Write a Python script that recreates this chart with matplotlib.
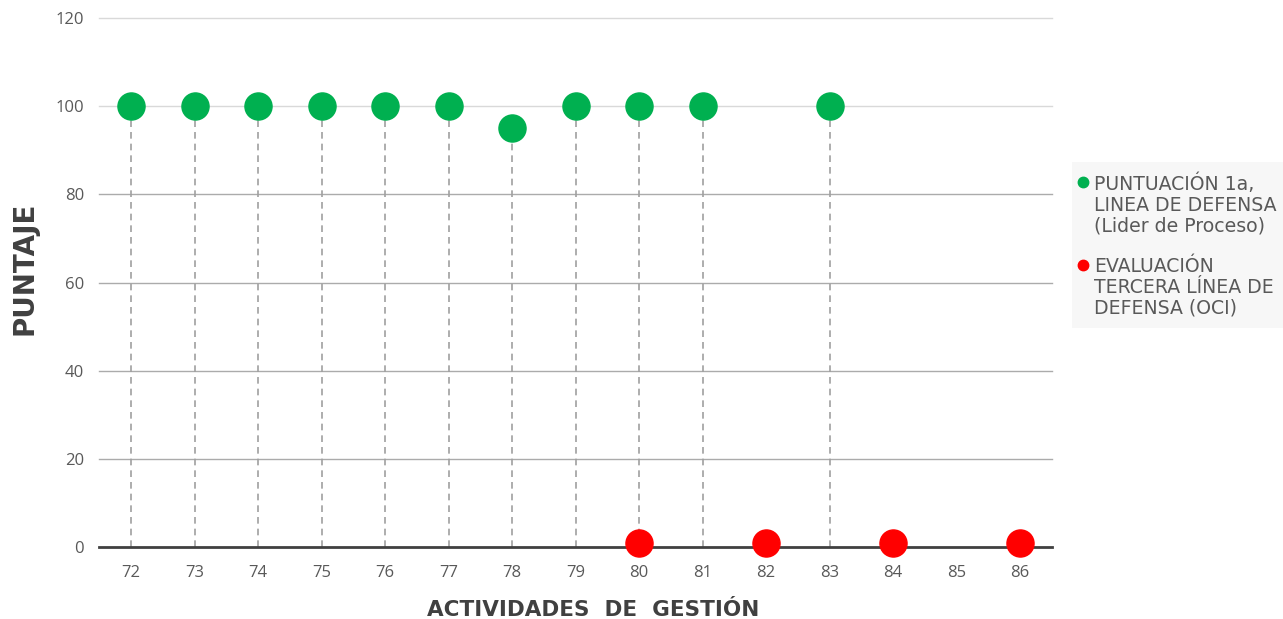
import numpy as np
import matplotlib.pyplot as plt
from matplotlib.patches import Rectangle
from matplotlib.lines import Line2D

# categories on the x axis
actividades = [72, 73, 74, 75, 76, 77, 78, 79, 80, 81, 82, 83, 84, 85, 86]
# 1a linea de defensa (None = no value)
puntuacion_1a = [100, 100, 100, 100, 100, 100, 95, 100, 100, 100, None, 100, None, None, None]
# tercera linea de defensa (OCI)
evaluacion_oci = [None, None, None, None, None, None, None, None, 1, None, 1, None, 1, None, 1]

label_1a = "PUNTUACIÓN 1a,\nLINEA DE DEFENSA\n(Lider de Proceso)"
label_oci = "EVALUACIÓN\nTERCERA LÍNEA DE\nDEFENSA (OCI)"
y_ticks = [0, 20, 40, 60, 80, 100, 120]

GREEN = "#00B050"
RED = "#FF0000"
TEXT = "#595959"
W, H = 1283, 619


def fx(px):
    return px / W


def fy(py):
    return 1 - py / H


def main():
    fig = plt.figure(figsize=(W / 100, H / 100), dpi=100)
    ax = fig.add_axes([0.0774, 0.1163, 0.7424, 0.8546])

    pos = np.arange(len(actividades))
    g = np.array([np.nan if v is None else v for v in puntuacion_1a], dtype=float)
    r = np.array([np.nan if v is None else v for v in evaluacion_oci], dtype=float)

    # gridlines
    for t in y_ticks[1:]:
        col = "#D9D9D9" if t >= 100 else "#ABABAB"
        ax.axhline(t, color=col, lw=1.0, zorder=0, clip_on=False)

    # drop lines down to the axis
    top = np.fmax(np.nan_to_num(g, nan=0), np.nan_to_num(r, nan=0))
    mask = ~np.isnan(g)
    ax.vlines(pos[mask], 0, top[mask], colors="#A0A0A0", linestyles=(0, (4, 3)),
              lw=1.2, zorder=1)

    ax.axhline(0, color="#404040", lw=2.0, zorder=2, clip_on=False)

    ax.plot(pos, g, "o", ms=19.5, color=GREEN, ls="none", zorder=3, clip_on=False)
    ax.plot(pos, r, "o", ms=19.5, color=RED, ls="none", zorder=3, clip_on=False)

    ax.set_xlim(-0.5, len(actividades) - 0.5)
    ax.set_ylim(0, 120)
    ax.set_xticks(pos)
    ax.set_xticklabels([str(a) for a in actividades])
    ax.set_yticks(y_ticks)
    for sp in ax.spines.values():
        sp.set_visible(False)
    ax.tick_params(length=0, labelsize=12, labelcolor=TEXT)
    ax.tick_params(axis="x", pad=13)
    ax.tick_params(axis="y", pad=11)
    for lab in ax.get_xticklabels() + ax.get_yticklabels():
        lab.set_fontfamily("Open Sans")

    ax.set_ylabel("PUNTAJE", fontsize=20, fontweight="bold", color="#404040",
                  family="DejaVu Sans")
    ax.yaxis.set_label_coords(-0.064, 0.527)
    ax.set_xlabel("ACTIVIDADES  DE  GESTIÓN", fontsize=15.5, fontweight="bold",
                  color="#404040", family="DejaVu Sans")
    ax.xaxis.set_label_coords(0.518, -0.1)

    # legend, drawn by hand so the marker sits on the first line
    fig.patches.append(Rectangle((fx(1072), fy(328)), fx(W - 1072), fy(162) - fy(328),
                                 transform=fig.transFigure, facecolor="#F7F7F7",
                                 edgecolor="none", zorder=0))
    for label, col, y_first in [(label_1a, GREEN, 182), (label_oci, RED, 265)]:
        fig.lines.append(Line2D([fx(1083)], [fy(y_first)], marker="o", ms=7.5,
                                color=col, ls="none", transform=fig.transFigure))
        fig.text(fx(1094), fy(y_first + 22.5), label, ha="left", va="center",
                 fontsize=13.6, color=TEXT, family="DejaVu Sans", linespacing=1.1)

    fig.savefig("out.png", dpi=100)
    plt.close(fig)


if __name__ == "__main__":
    main()
